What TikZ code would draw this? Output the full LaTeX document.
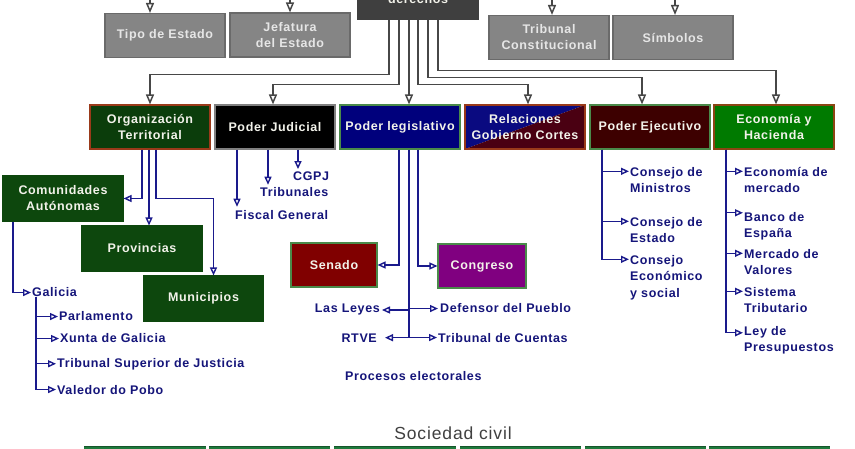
\documentclass[tikz,border=0pt]{standalone}
\usepackage{fontspec}
\setmainfont{Liberation Sans}
\newfontfamily\lsb[LetterSpace=5]{Liberation Sans}
\usetikzlibrary{arrows.meta,calc}
\definecolor{gfill}{HTML}{858585}
\definecolor{gedge}{HTML}{6A6A6A}
\definecolor{gtxt}{HTML}{E6E6E6}
\definecolor{dfill}{HTML}{3F3F3F}
\definecolor{conn}{HTML}{474747}
\definecolor{navy}{HTML}{15157A}
\definecolor{bline}{HTML}{1A1A8C}
\definecolor{btxt}{HTML}{F2F2EA}
\definecolor{orgf}{HTML}{0B3D0B}
\definecolor{orge}{HTML}{9A3A1A}
\definecolor{legf}{HTML}{00007C}
\definecolor{relb}{HTML}{0A0A80}
\definecolor{relm}{HTML}{4A0012}
\definecolor{ejef}{HTML}{3D0000}
\definecolor{ecof}{HTML}{007A00}
\definecolor{ecoe}{HTML}{8B4513}
\definecolor{greene}{HTML}{4A8A4A}
\definecolor{comf}{HTML}{0D470D}
\definecolor{senf}{HTML}{800000}
\definecolor{conf}{HTML}{800080}
\definecolor{barf}{HTML}{1E7A3C}
\definecolor{socc}{HTML}{404040}
\newcommand\bxf{\lsb\bfseries\fontsize{12.5}{16}\selectfont}
\newcommand\lbf{\lsb\bfseries\fontsize{12.5}{16.5}\selectfont}
\begin{document}
\begin{tikzpicture}[x=1pt,y=-1pt,
  box/.style={draw, line width=1.1pt, minimum width=120pt, minimum height=44pt, inner sep=0pt, align=center, font=\bxf, text=btxt},
  gbox/.style={box, fill=gfill, draw=gedge, text=gtxt},
  cbox/.style={box, fill=comf, draw=comf, minimum height=45pt},
  lab/.style={font=\lbf, text=navy, inner sep=0pt, align=left},
  garr/.style={draw=conn, line width=1.5pt, -{Triangle[open,length=10pt,width=8pt]}},
  barr/.style={draw=bline, line width=1.4pt, -{Triangle[open,length=8pt,width=7pt]}},
  blin/.style={draw=bline, line width=1.4pt}]
\useasboundingbox (0,0) rectangle (855,449);
\clip (0,0) rectangle (855,449);
\fill[white] (0,0) rectangle (855,449);

% top row
\node[box, fill=dfill, draw=dfill, minimum height=45pt] (der) at (418,-3.5) {};
\node[font=\bxf, text=btxt, anchor=base] (dertxt) at (418,4) {derechos};
\node[gbox] (tipo) at (165,35.5) {Tipo de Estado};
\node[gbox] (jef) at (290,35) {Jefatura\\del Estado};
\node[gbox] (tc) at (549,37.5) {Tribunal\\Constitucional};
\node[gbox] (sim) at (673,37.5) {Símbolos};

\coordinate (in1) at (150,-5);
\coordinate (in2) at (290,-5);
\coordinate (in3) at (552,-5);
\coordinate (in4) at (675,-5);
\draw[garr] (in1) -- (in1 |- tipo.north);
\draw[garr] (in2) -- (in2 |- jef.north);
\draw[garr] (in3) -- (in3 |- tc.north);
\draw[garr] (in4) -- (in4 |- sim.north);

% second row
\node[box, fill=orgf, draw=orge] (org) at (150,127) {Organización\\Territorial};
\node[box, fill=black, draw=gray] (jud) at (275,127) {Poder Judicial};
\node[box, fill=legf, draw=greene] (leg) at (400,127) {Poder legislativo};
\node[box, draw=orge, path picture={
  \fill[relb] (path picture bounding box.south west) -- (path picture bounding box.north west) -- (path picture bounding box.north east) -- cycle;
  \fill[relm] (path picture bounding box.south west) -- (path picture bounding box.north east) -- (path picture bounding box.south east) -- cycle;}] (rel) at (525,127) {Relaciones\\Gobierno Cortes};
\node[box, fill=ejef, draw=greene] (eje) at (650,127) {Poder Ejecutivo};
\node[box, fill=ecof, draw=ecoe] (eco) at (774,127) {Economía y\\Hacienda};

\coordinate (d1) at ([xshift=-29pt]der.south);
\coordinate (d2) at ([xshift=-19pt]der.south);
\coordinate (d3) at ([xshift=-9pt]der.south);
\coordinate (d4) at ([xshift=0pt]der.south);
\coordinate (d5) at ([xshift=10pt]der.south);
\coordinate (d6) at ([xshift=20pt]der.south);
\draw[garr] (d1) -- ++(0,55) -| (org.north);
\draw[garr] (d2) -- ++(0,65) -| ([xshift=-2pt]jud.north);
\draw[garr] (d3) -- (d3 |- leg.north);
\draw[garr] (d4) -- ++(0,65) -| ([xshift=3pt]rel.north);
\draw[garr] (d5) -- ++(0,58) -| ([xshift=-8pt]eje.north);
\draw[garr] (d6) -- ++(0,51) -| ([xshift=2pt]eco.north);

% territorial
\node[cbox] (com) at (63,198.5) {Comunidades\\Autónomas};
\node[cbox] (prov) at (142,248.5) {Provincias};
\node[cbox] (mun) at (203.5,298.5) {Municipios};
\coordinate (o1) at ([xshift=-8pt]org.south);
\coordinate (o2) at ([xshift=-1pt]org.south);
\coordinate (o3) at ([xshift=6pt]org.south);
\draw[barr] (o1) |- (com.east);
\draw[barr] (o2) -- (o2 |- prov.north);
\draw[barr] (o3) -- ++(0,49) -| ([xshift=10pt]mun.north);

\node[lab, anchor=base west] (gal) at (32,297) {Galicia};
\coordinate (c1) at ([xshift=-50pt]com.south);
\draw[barr] (c1) |- ([xshift=-1pt]gal.west);
\node[lab, anchor=base west] (parl) at (59,321) {Parlamento};
\node[lab, anchor=base west] (xun) at (60,343) {Xunta de Galicia};
\node[lab, anchor=base west] (tsj) at (57,367) {Tribunal Superior de Justicia};
\node[lab, anchor=base west] (val) at (57,394) {Valedor do Pobo};
\coordinate (g0) at ([xshift=4pt]gal.south west);
\draw[barr] (g0) |- ([xshift=-1pt]parl.west);
\draw[barr] (g0) |- ([xshift=-1pt]xun.west);
\draw[barr] (g0) |- ([xshift=-1pt]tsj.west);
\draw[barr] (g0) |- ([xshift=-1pt]val.west);

% judicial
\node[lab, anchor=base west] (cgpj) at (293,181) {CGPJ};
\node[lab, anchor=base west] (trib) at (260,197) {Tribunales};
\node[lab, anchor=base west] (fis) at (235,220) {Fiscal General};
\coordinate (j1) at ([xshift=-38pt]jud.south);
\coordinate (j2) at ([xshift=-7pt]jud.south);
\coordinate (j3) at ([xshift=23pt]jud.south);
\draw[barr] (j1) -- ([yshift=4pt]j1 |- fis.north);
\draw[barr] (j2) -- ([yshift=3pt]j2 |- trib.north);
\draw[barr] (j3) -- ([yshift=3pt]j3 |- cgpj.north);

% legislative
\node[box, fill=senf, draw=greene, minimum width=86pt] (sen) at (334,265) {Senado};
\node[box, fill=conf, draw=greene, minimum width=88pt] (con) at (482,266) {Congreso};
\coordinate (l1) at ([xshift=-1pt]leg.south);
\coordinate (l2) at ([xshift=9pt]leg.south);
\coordinate (l3) at ([xshift=18pt]leg.south);
\draw[barr] (l1) |- (sen.east);
\draw[barr] (l3) |- (con.west);
\node[lab, anchor=base east] (ley) at (380,313) {Las Leyes};
\node[lab, anchor=base west] (def) at (440,313) {Defensor del Pueblo};
\node[lab, anchor=base east] (rtve) at (377,342) {RTVE};
\node[lab, anchor=base west] (tcu) at (438,342) {Tribunal de Cuentas};
\node[lab, anchor=base west] (proc) at (345,381) {Procesos electorales};
\draw[blin] (l2) -- (l2 |- rtve.east);
\draw[barr] (l2 |- ley.east) -- ([xshift=2pt]ley.east);
\draw[barr] (l2 |- def.west) -- ([xshift=-2pt]def.west);
\draw[barr] (l2 |- rtve.east) -- ([xshift=8pt]rtve.east);
\draw[barr] (l2 |- tcu.west) -- ([xshift=-1pt]tcu.west);

% executive
\node[lab, anchor=north west] (cm) at (630,166.8) {Consejo de\\Ministros};
\node[lab, anchor=north west] (ce) at (630,216.8) {Consejo de\\Estado};
\node[lab, anchor=north west] (ces) at (630,254.8) {Consejo\\Económico\\y social};
\coordinate (e0) at ([xshift=-48pt]eje.south);
\draw[barr] (e0) |- ([xshift=-1pt,yshift=-4.5pt]cm.north west);
\draw[barr] (e0) |- ([xshift=-1pt,yshift=-4.5pt]ce.north west);
\draw[barr] (e0) |- ([xshift=-1pt,yshift=-4.5pt]ces.north west);

% economy
\node[lab, anchor=north west] (em) at (744,166.8) {Economía de\\mercado};
\node[lab, anchor=north west] (be) at (744,211.8) {Banco de\\España};
\node[lab, anchor=north west] (mv) at (744,248.8) {Mercado de\\Valores};
\node[lab, anchor=north west] (st) at (744,286.8) {Sistema\\Tributario};
\node[lab, anchor=north west] (lp) at (744,325.8) {Ley de\\Presupuestos};
\coordinate (c0) at ([xshift=-48pt]eco.south);
\draw[barr] (c0) |- ([xshift=-1pt,yshift=-4.5pt]em.north west);
\draw[barr] (c0) |- ([xshift=-1pt,yshift=-1pt]be.north west);
\draw[barr] (c0) |- ([xshift=-1pt,yshift=-4.5pt]mv.north west);
\draw[barr] (c0) |- ([xshift=-1pt,yshift=-4.5pt]st.north west);
\draw[barr] (c0) |- ([xshift=-1pt,yshift=-7pt]lp.north west);

% sociedad civil
\node[font=\lsb\fontsize{17.5}{20}\selectfont, text=socc, inner sep=0pt] (soc) at (453,433) {Sociedad civil};
\foreach \a/\b in {84/206,209/330,334/456,460/581,585/706,709/830}{
  \fill[barf] (\a,446) rectangle (\b,456);
  \draw[barf!70!black, line width=0.8pt] (\a,446.5) -- (\b,446.5);
}
\end{tikzpicture}
\end{document}
